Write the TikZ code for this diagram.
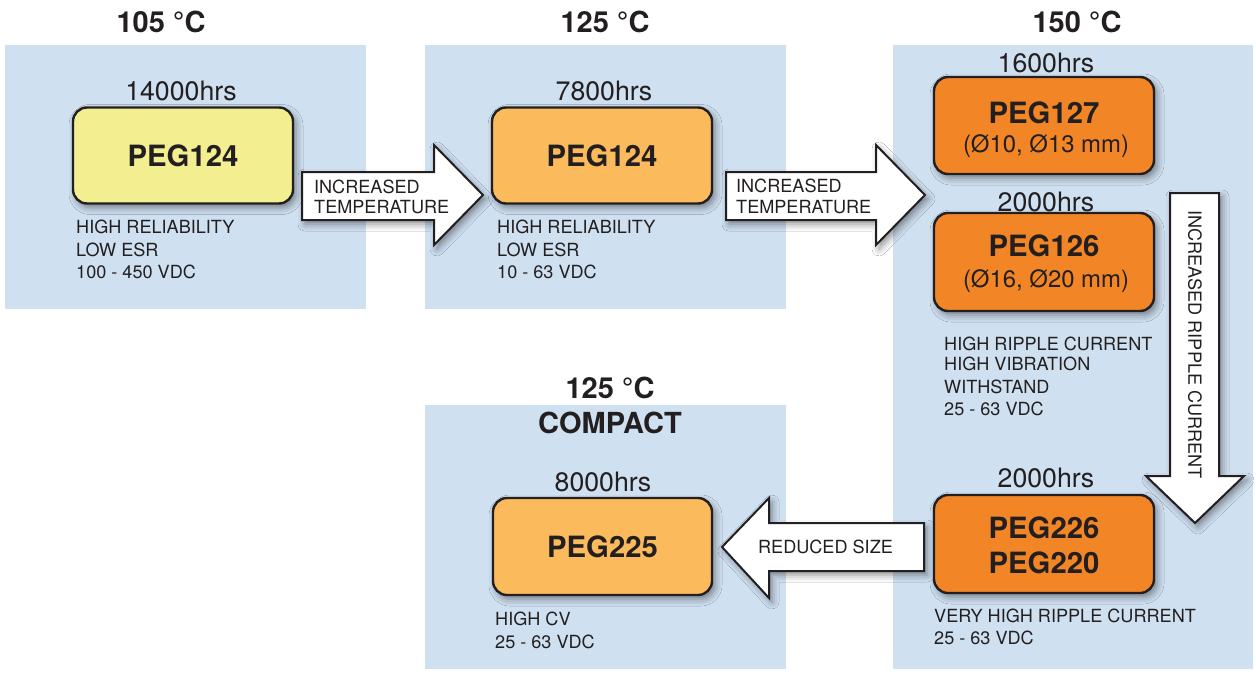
\documentclass[tikz,border=0pt]{standalone}
\usepackage{fontspec}
\setmainfont{TeX Gyre Heros}
\usetikzlibrary{shadows.blur}
\definecolor{panelblue}{RGB}{207,224,241}
\definecolor{pyellow}{RGB}{243,238,143}
\definecolor{plorange}{RGB}{251,187,92}
\definecolor{porange}{RGB}{242,134,39}
\definecolor{ink}{RGB}{35,31,32}
\tikzset{
  panel/.style={fill=panelblue, draw=none},
  pbox/.style={draw=ink, line width=2.4pt, rounded corners=14pt, inner sep=0pt,
    blur shadow={shadow xshift=3pt, shadow yshift=-4pt, shadow blur radius=7pt, shadow opacity=45}},
  blockarrow/.style={draw=ink, fill=white, line width=2pt, line join=miter,
    blur shadow={shadow xshift=3pt, shadow yshift=-4pt, shadow blur radius=7pt, shadow opacity=45}},
  ttl/.style={font=\bfseries\fontsize{29}{31}\selectfont, anchor=base, inner sep=0pt, text=ink},
  hrs/.style={font=\fontsize{26.7}{28}\selectfont, anchor=base, inner sep=0pt, text=ink},
  peg/.style={font=\bfseries\fontsize{29.3}{31}\selectfont, anchor=base, inner sep=0pt, text=ink},
  dia/.style={font=\fontsize{23.9}{25}\selectfont, anchor=base, inner sep=0pt, text=ink},
  desc/.style={font=\fontsize{18.1}{20}\selectfont, anchor=base west, inner sep=0pt, text=ink},
  arrtxt/.style={font=\fontsize{18.1}{20}\selectfont, inner sep=0pt, text=ink},
}
\begin{document}
\begin{tikzpicture}[x=1pt, y=-1pt]
\useasboundingbox[fill=white] (0,0) rectangle (1256,675);

% panels
\fill[panel] (5,45) rectangle (366,309);
\fill[panel] (425,45) rectangle (786,309);
\fill[panel] (893,45) rectangle (1253,669);
\fill[panel] (425,405) rectangle (786,669);

% titles
\node[ttl] (t105) at (161,32) {105 °C};
\node[ttl] (t125) at (605,32) {125 °C};
\node[ttl] (t150) at (1077,32) {150 °C};
\node[ttl] (t125c) at (610,398) {125 °C};
\node[ttl] (compact) at (610,433) {COMPACT};

% product boxes
\node[pbox, fill=pyellow, minimum width=220pt, minimum height=96pt] (b1) at (183,155.5) {};
\node[pbox, fill=plorange, minimum width=220pt, minimum height=96pt] (b2) at (602,155.5) {};
\node[pbox, fill=porange, minimum width=220pt, minimum height=97pt] (b3) at (1044,125.5) {};
\node[pbox, fill=porange, minimum width=220pt, minimum height=98pt] (b4) at (1044,262) {};
\node[pbox, fill=porange, minimum width=220pt, minimum height=98pt] (b5) at (1044,544) {};
\node[pbox, fill=plorange, minimum width=219pt, minimum height=97pt] (b6) at (602.5,546.5) {};

% hours
\node[hrs] (h1) at (181,100) {14000hrs};
\node[hrs] (h2) at (604,100) {7800hrs};
\node[hrs] (h3) at (1046,72) {1600hrs};
\node[hrs] (h4) at (1046,211) {2000hrs};
\node[hrs] (h5) at (1046,487) {2000hrs};
\node[hrs] (h6) at (603,491) {8000hrs};

% product names
\node[peg] (p1) at (183,166) {PEG124};
\node[peg] (p2) at (602,166) {PEG124};
\node[peg] (p3) at (1044,123) {PEG127};
\node[dia] (d3) at (1046,152) {(Ø10, Ø13 mm)};
\node[peg] (p4) at (1044,256) {PEG126};
\node[dia] (d4) at (1046,287) {(Ø16, Ø20 mm)};
\node[peg] (p5a) at (1044,538) {PEG226};
\node[peg] (p5b) at (1044,573) {PEG220};
\node[peg] (p6) at (602.5,557) {PEG225};

% descriptions
\node[desc] (e1a) at (76,233) {HIGH RELIABILITY};
\node[desc] (e1b) at (76,256) {LOW ESR};
\node[desc] (e1c) at (76,278) {100 - 450 VDC};
\node[desc] (e2a) at (497,233) {HIGH RELIABILITY};
\node[desc] (e2b) at (497,256) {LOW ESR};
\node[desc] (e2c) at (497,278) {10 - 63 VDC};
\node[desc] (e3a) at (944,350) {HIGH RIPPLE CURRENT};
\node[desc] (e3b) at (944,370) {HIGH VIBRATION};
\node[desc] (e3c) at (944,393) {WITHSTAND};
\node[desc] (e3d) at (944,415) {25 - 63 VDC};
\node[desc] (e5a) at (934,622) {VERY HIGH RIPPLE CURRENT};
\node[desc] (e5b) at (934,644) {25 - 63 VDC};
\node[desc] (e6a) at (495,625) {HIGH CV};
\node[desc] (e6b) at (495,648) {25 - 63 VDC};

% block arrows
\draw[blockarrow] (302,172) -- (434,172) -- (434,145) -- (483,195) -- (434,245) -- (434,220) -- (302,220) -- cycle;
\node[arrtxt, anchor=base west] (a1a) at (314,193) {INCREASED};
\node[arrtxt, anchor=base west] (a1b) at (314,213) {TEMPERATURE};

\draw[blockarrow] (726,172) -- (876,172) -- (876,145) -- (925,195) -- (876,245) -- (876,220) -- (726,220) -- cycle;
\node[arrtxt, anchor=base west] (a2a) at (736,192) {INCREASED};
\node[arrtxt, anchor=base west] (a2b) at (736,213) {TEMPERATURE};

\draw[blockarrow] (1170,193) -- (1219,193) -- (1219,476) -- (1244,476) -- (1195,523) -- (1146,476) -- (1170,476) -- cycle;
\node[arrtxt, rotate=-90] (a3) at (1195,344.5) {INCREASED RIPPLE CURRENT};

\draw[blockarrow] (924,523) -- (769,523) -- (769,498) -- (722,547) -- (769,598) -- (769,571) -- (924,571) -- cycle;
\node[arrtxt] (a4) at (825.5,547) {REDUCED SIZE};
\end{tikzpicture}
\end{document}
